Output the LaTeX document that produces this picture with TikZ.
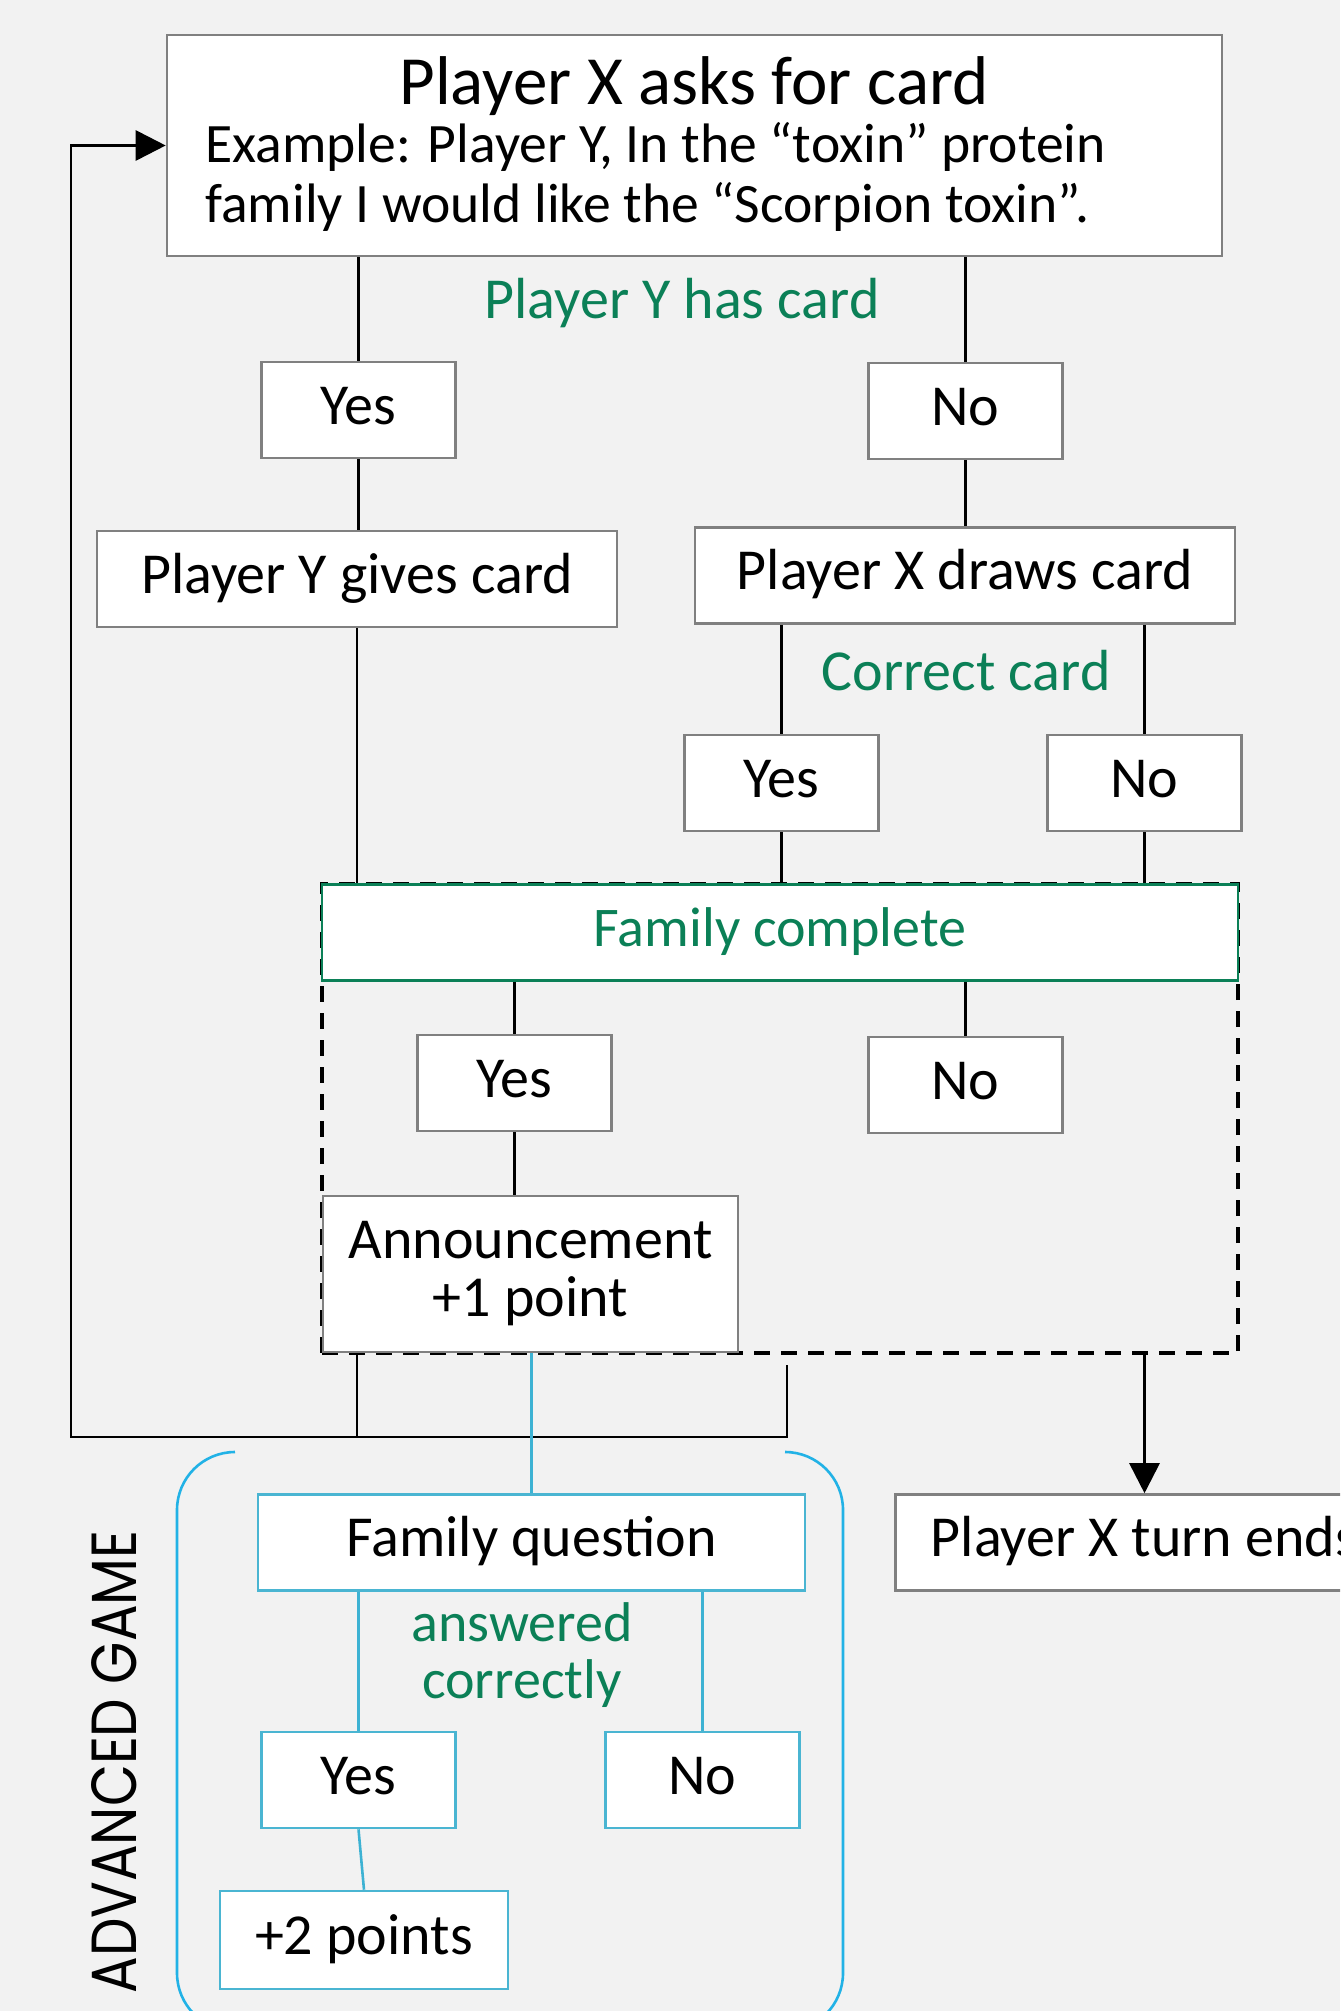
\documentclass[tikz,border=0pt]{standalone}
\usepackage{fontspec}
\setmainfont{Carlito}
\newfontfamily\gamefont{Poppins}
\usetikzlibrary{arrows.meta}
\definecolor{bg}{HTML}{F2F2F2}
\definecolor{bordergray}{HTML}{808080}
\definecolor{lblgreen}{HTML}{0B8057}
\definecolor{frameblue}{HTML}{22B2E6}
\definecolor{boxblue}{HTML}{4AB5D2}
\definecolor{lineblue}{HTML}{3DB2D3}
\begin{document}
\begin{tikzpicture}[x=0.5pt,y=-0.5pt,
  every node/.style={font=\fontsize{29pt}{29pt}\selectfont, inner sep=0pt},
  bx/.style={draw=bordergray, fill=white, line width=1.3pt, minimum height=48pt},
  gbx/.style={draw=lblgreen, fill=white, line width=1.3pt, minimum height=48pt},
  bbx/.style={draw=boxblue, fill=white, line width=1.3pt, minimum height=48pt},
  tt/.style={text height=19pt, text depth=5pt},
  sbox/.style={minimum width=97pt, tt},
  conn/.style={draw=black, line width=1.4pt},
  bconn/.style={draw=lineblue, line width=1.3pt},
  lbl/.style={text=lblgreen},
  tip/.style={-{Triangle[length=15pt,width=15pt]}},
  grp/.style={draw=black, line width=1.6pt, dash pattern=on 8pt off 5.5pt},
]
\clip (0,0) rectangle (1340,2011);
\fill[bg] (0,0) rectangle (1340,2011);

% top box
\node[bx, minimum width=527.5pt, minimum height=110.5pt] (top) at (694.5,145.5) {};
\node[anchor=base, font=\fontsize{34.5pt}{38pt}\selectfont] (title) at (694,105) {Player X asks for card};
\node[anchor=base west, font=\fontsize{27.8pt}{30pt}\selectfont] (ex1) at (205,163) {Example: Player Y, In the “toxin” protein};
\node[anchor=base west, font=\fontsize{27.8pt}{30pt}\selectfont] (ex2) at (205,223) {family I would like the “Scorpion toxin”.};

\node[lbl, anchor=base] (hascard) at (682,319) {Player Y has card};
\node[bx, sbox] (yes1) at (358.5,410) {Yes};
\node[bx, sbox] (no1) at (965.5,411) {No};
\node[bx, tt, minimum width=260pt] (ygives) at (357,579) {Player Y gives card};
\node[bx, tt, minimum width=270pt] (xdraws) at (965,575.5) {Player X draws card};
\node[lbl, anchor=base] (correct) at (966,690) {Correct card};
\node[bx, sbox] (yes2) at (781.5,783) {Yes};
\node[bx, sbox] (no2) at (1144.5,783) {No};

% family complete group
\node[grp, minimum width=458pt, minimum height=234.5pt] (famgroup) at (780,1118.5) {};
\node[gbx, tt, lbl, minimum width=458pt, font=\fontsize{28pt}{29pt}\selectfont] (famc) at (780,932.5) {Family complete};
\node[bx, sbox] (yes3) at (514.5,1083) {Yes};
\node[bx, sbox] (no3) at (965.5,1085) {No};
\node[bx, minimum width=207.5pt, minimum height=78pt, align=center] (ann) at (530.5,1274) {Announcement\\+1 point};

% turn ends
\node[bx, tt, minimum width=249pt, anchor=west] (turnend) at (894,1542.5) {Player X turn ends};

% advanced game
\draw[frameblue, line width=1.3pt, rounded corners=29pt] (235,1452) -- (177,1452) -- (177,2031) -- (843,2031) -- (843,1452) -- (785,1452);
\node[rotate=90] (adv) at (114.5,1762) {\resizebox{231.5pt}{22.5pt}{\gamefont ADVANCED GAME}};
\node[bbx, tt, minimum width=273.5pt] (famq) at (531.5,1542.5) {Family question};
\node[lbl, anchor=base, font=\fontsize{28pt}{29pt}\selectfont] (ans1) at (522,1641) {answered};
\node[lbl, anchor=base, font=\fontsize{28pt}{29pt}\selectfont] (ans2) at (522,1698) {correctly};
\node[bbx, sbox] (yes4) at (358.5,1780) {Yes};
\node[bbx, sbox] (no4) at (702.5,1780) {No};
\node[bbx, tt, minimum width=144pt, minimum height=49pt] (plus2) at (364,1940) {+2 points};

% connectors
\draw[conn] (top.south -| yes1.north) -- (yes1.north);
\draw[conn] (top.south -| no1.north) -- (no1.north);
\draw[conn] (yes1.south) -- (yes1.south |- ygives.north);
\draw[conn] (no1.south) -- (no1.south |- xdraws.north);
\draw[conn] (xdraws.south -| yes2.north) -- (yes2.north);
\draw[conn] (xdraws.south -| no2.north) -- (no2.north);
\draw[conn] (ygives.south) -- (ygives.south |- famc.north);
\draw[conn] (yes2.south) -- (yes2.south |- famc.north);
\draw[conn] (no2.south) -- (no2.south |- famc.north);
\draw[conn] (famc.south -| yes3.north) -- (yes3.north);
\draw[conn] (famc.south -| no3.north) -- (no3.north);
\draw[conn] (yes3.south) -- (yes3.south |- ann.north);

\coordinate (nofree) at (787,1365);
\coordinate (loopcorner) at (71,1437);
\draw[conn, tip] (nofree) |- (loopcorner) |- (top.west);
\draw[conn] (ann.south -| ygives.south) -- (ygives.south |- loopcorner);
\draw[conn, tip] (famgroup.south -| no2.south) -- (no2.south |- turnend.north);

\draw[bconn] (ann.south -| famq.north) -- (famq.north);
\draw[bconn] (famq.south -| yes4.north) -- (yes4.north);
\draw[bconn] (famq.south -| no4.north) -- (no4.north);
\draw[bconn] (yes4.south) -- (plus2.north);
\end{tikzpicture}
\end{document}
